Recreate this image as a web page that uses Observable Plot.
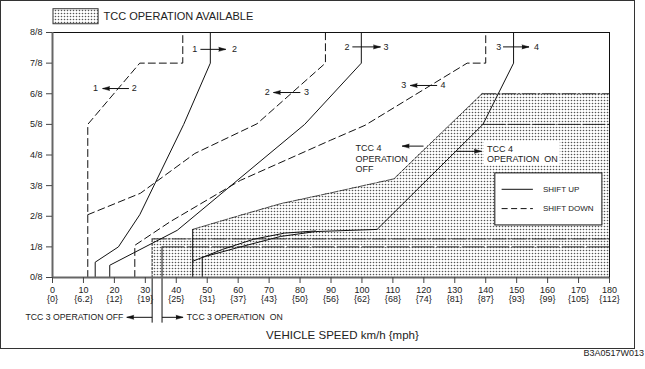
<!DOCTYPE html>
<html><head><meta charset="utf-8">
<script src="https://cdn.jsdelivr.net/npm/d3@7"></script>
<script src="https://cdn.jsdelivr.net/npm/@observablehq/plot@0.6"></script>
<style>
body{margin:0;background:#fff;}
#wrap{position:relative;width:645px;height:369px;overflow:hidden;font-family:"Liberation Sans",Arial,sans-serif;}
#border{position:absolute;left:0;top:0;width:633px;height:347px;border:1.5px solid #333;pointer-events:none;}
#code{position:absolute;right:1px;top:348px;font-size:9px;color:#222;}
</style></head><body>
<div id="wrap"><div id="chart"></div><div id="border"></div><div id="code">B3A0517W013</div></div>
<script>
// ---------- data ----------
const speedTicks = [0,10,20,30,40,50,60,70,80,90,100,110,120,130,140,150,160,170,180];
const mphLabels = ["{0}","{6.2}","{12}","{19}","{25}","{31}","{37}","{43}","{50}","{56}","{62}","{68}","{74}","{81}","{87}","{93}","{99}","{105}","{112}"];
const throttleTicks = [0,1,2,3,4,5,6,7,8];
const throttleLabels = ["0/8","1/8","2/8","3/8","4/8","5/8","6/8","7/8","8/8"];

// shift lines [speed km/h, throttle eighths]
const up12   = [[13.8,0],[13.8,0.5],[21.3,1],[28.2,2.05],[42.4,5],[51,7],[51,8]];
const down12 = [[11.4,0],[11.4,5],[28.2,7],[42.1,7],[42.1,8]];
const up23   = [[18.5,0],[18.5,0.4],[40.3,1.54],[81.5,5],[99.8,7],[99.8,8]];
const down23 = [[11.4,2.05],[28.4,2.75],[46,4.05],[66.1,5.02],[88.2,7],[88.2,8]];
const up34   = [[48.4,0],[48.4,0.66],[60,0.98],[73.7,1.34],[85,1.5],[104.9,1.57],[139.1,5],[149,7],[149,8]];
const down34 = [[26.6,0],[26.6,1.05],[38,1.82],[60.7,3.17],[89.8,4.48],[101,4.97],[134,7],[140,7],[140,8]];

// TCC boundaries
const tcc3Off = [[32.2,0],[32.2,1.26],[180,1.26]];
const tcc3On  = [[35.4,0],[35.4,1],[180,1]];
const tcc4Off = [[45.3,0],[45.3,1.57],[60.7,2.03],[73.7,2.41],[89.8,2.76],[110.3,3.22],[138.8,6],[180,6]];
const tcc4OnLow  = [[45.3,0.53],[55,0.92],[65,1.25],[75,1.45],[85,1.52]];
const tcc4OnHigh = [[139.1,5],[180,5]];

// annotations
const gearLabels = [
  {x:46.0,y:7.45,t:"1"},{x:58.8,y:7.45,t:"2"},
  {x:13.9,y:6.17,t:"1"},{x:26.4,y:6.17,t:"2"},
  {x:69.4,y:6.04,t:"2"},{x:82.1,y:6.04,t:"3"},
  {x:95.2,y:7.53,t:"2"},{x:107.8,y:7.53,t:"3"},
  {x:144.2,y:7.53,t:"3"},{x:156.4,y:7.53,t:"4"},
  {x:113.5,y:6.27,t:"3"},{x:126.2,y:6.27,t:"4"}
];
const arrows = [
  {y:7.45,tail:47.8,head:56.0},
  {y:6.17,tail:24.7,head:16.2},
  {y:6.04,tail:80.1,head:71.4},
  {y:7.53,tail:96.9,head:106.0},
  {y:7.53,tail:145.6,head:154.0},
  {y:6.27,tail:124.3,head:115.6},
  {y:4.29,tail:119.9,head:113.0},
  {y:4.12,tail:130.5,head:138.6},
  {y:-1.30,tail:32.2,head:24.0},
  {y:-1.30,tail:35.4,head:42.2}
];

// ---------- build ----------
const lineRows = [
  ["1-2","up",up12],["1-2","down",down12],["2-3","up",up23],
  ["2-3","down",down23],["3-4","up",up34],["3-4","down",down34]
].flatMap(([name,kind,pts]) => pts.map(([x,y]) => ({name:name+kind,kind,x,y})));
const pt = a => a.map(([x,y]) => ({x,y}));
const stip = "url(#stipple)";
const font = "Liberation Sans, Arial, Helvetica, sans-serif";

const svg = Plot.plot({
  width: 645, height: 369,
  marginLeft: 52, marginRight: 36, marginTop: 32, marginBottom: 92,
  x: {domain: [0,180]},
  y: {domain: [0,8]},
  style: {fontFamily: font, fontSize: "9px", color: "#222", background: "transparent"},
  marks: [
    // stippled TCC regions
    Plot.rect([{x1: tcc3Off[0][0], x2: tcc3Off[2][0], y1: 0, y2: tcc3Off[1][1]}], {x1:"x1",x2:"x2",y1:"y1",y2:"y2", fill: stip}),
    Plot.areaY(pt(tcc4Off.slice(1)), {x:"x", y:"y", fill: stip}),
    // TCC boundaries
    Plot.line(pt(tcc3Off.slice(0,2)), {x:"x",y:"y",stroke:"#222",strokeWidth:1,strokeDasharray:"2,2"}),
    Plot.line(pt(tcc3Off.slice(1)), {x:"x",y:"y",stroke:"#222",strokeWidth:1,strokeDasharray:"14,2,2,2"}),
    Plot.line(pt(tcc3On.slice(0,2)), {x:"x",y:"y",stroke:"#111",strokeWidth:1}),
    Plot.line(pt(tcc3On.slice(1)), {x:"x",y:"y",stroke:"#222",strokeWidth:1,strokeDasharray:"22,3"}),
    Plot.ruleX([tcc3Off[0][0], tcc3On[0][0]], {y1:-1.49, y2:0, stroke:"#111"}),
    Plot.line(pt(tcc4Off.slice(0,2)), {x:"x",y:"y",stroke:"#111",strokeWidth:1}),
    Plot.line(pt(tcc4Off.slice(1,7)), {x:"x",y:"y",stroke:"#222",strokeWidth:0.8,strokeDasharray:"8,1.5"}),
    Plot.line(pt(tcc4Off.slice(6)), {x:"x",y:"y",stroke:"#222",strokeWidth:1,strokeDasharray:"14,2,2,2"}),
    Plot.line(pt(tcc4OnLow), {x:"x",y:"y",stroke:"#111",strokeWidth:1}),
    Plot.line(pt(tcc4OnHigh), {x:"x",y:"y",stroke:"#222",strokeWidth:1,strokeDasharray:"22,3"}),
    // white boxes
    Plot.rect([{x1:139.6,x2:164.1,y1:3.66,y2:4.44}], {x1:"x1",x2:"x2",y1:"y1",y2:"y2",fill:"white"}),
    Plot.rect([{x1:143.1,x2:177.7,y1:1.70,y2:3.40}], {x1:"x1",x2:"x2",y1:"y1",y2:"y2",fill:"white",stroke:"#111",strokeWidth:1}),
    // shift lines
    Plot.line(lineRows.filter(d => d.kind === "up"), {x:"x",y:"y",z:"name",stroke:"#111",strokeWidth:1}),
    Plot.line(lineRows.filter(d => d.kind === "down"), {x:"x",y:"y",z:"name",stroke:"#111",strokeWidth:1,strokeDasharray:"7,4"}),
    // frame & axes lines
    Plot.ruleY([8], {stroke:"#111", strokeWidth:1}),
    Plot.ruleX([180], {stroke:"#111", strokeWidth:1}),
    Plot.ruleX([0], {stroke:"#666", strokeWidth:2}),
    Plot.ruleY([0], {stroke:"#666", strokeWidth:2}),
    Plot.axisY({ticks: throttleTicks, tickFormat: d => throttleLabels[throttleTicks.indexOf(d)], tickSize: 6, tickPadding: 4, label: null, stroke:"#444", fill:"#222", fontSize: 9}),
    Plot.axisX({ticks: speedTicks, tickFormat: d => String(d), tickSize: 6, tickPadding: 3, label: null, stroke:"#444", fill:"#222", fontSize: 9}),
    Plot.axisX({ticks: speedTicks, tickFormat: d => mphLabels[speedTicks.indexOf(d)], tickSize: 0, tickPadding: 18, label: null, fill:"#222", fontSize: 9}),
    // arrows
    Plot.link(arrows, {x1:"tail", x2:"head", y1:"y", y2:"y", stroke:"#111", strokeWidth:1}),
    Plot.vector(arrows, {x:"head", y:"y", rotate: d => d.head > d.tail ? 90 : -90, length: 7, shape:"spike", r: 2, anchor:"end", fill:"#111", stroke:"#111", strokeWidth:0.5}),
    // gear labels
    Plot.text(gearLabels, {x:"x", y:"y", text:"t", fontSize: 9, fill:"#222"}),
    // TCC 4 labels
    Plot.text(["TCC 4\nOPERATION\nOFF"], {x: 97.9, y: 3.9, text: d => d, textAnchor:"start", lineAnchor:"middle", lineHeight: 1.2, fontSize: 9, fill:"#222"}),
    Plot.text(["TCC 4\nOPERATION\u00a0\u00a0ON"], {x: 140.4, y: 4.04, text: d => d, textAnchor:"start", lineAnchor:"middle", lineHeight: 1.18, fontSize: 9, fill:"#222"}),
    // legend box
    Plot.ruleY([2.88], {x1:145.3, x2:155.4, stroke:"#111"}),
    Plot.ruleY([2.25], {x1:145.3, x2:155.4, stroke:"#111", strokeDasharray:"6,3.5"}),
    Plot.text(["SHIFT UP","SHIFT DOWN"], {x: 158.5, y: (d,i) => i === 0 ? 2.88 : 2.25, text: d => d, textAnchor:"start", fontSize: 8, fill:"#222"}),
    // top legend
    Plot.rect([{x1:0.32,x2:14.9,y1:8.27,y2:8.76}], {x1:"x1",x2:"x2",y1:"y1",y2:"y2",fill:stip,stroke:"#333",strokeWidth:1}),
    Plot.text(["TCC OPERATION AVAILABLE"], {x: 16.5, y: 8.51, text: d => d, textAnchor:"start", fontSize: 11, fill:"#222"}),
    // TCC 3 labels
    Plot.text(["TCC 3 OPERATION OFF"], {x: 22.9, y: -1.30, text: d => d, textAnchor:"end", fontSize: 8.7, fill:"#222"}),
    Plot.text(["TCC 3 OPERATION\u00a0\u00a0ON"], {x: 43.4, y: -1.30, text: d => d, textAnchor:"start", fontSize: 8.7, fill:"#222"}),
    // x title
    Plot.text(["VEHICLE SPEED km/h {mph}"], {x: 93.7, y: -1.9, text: d => d, fontSize: 11.5, fill:"#222"})
  ]
});
const defs = d3.select(svg).insert("defs", ":first-child");
const pat = defs.append("pattern").attr("id","stipple").attr("patternUnits","userSpaceOnUse").attr("width",3).attr("height",3);
pat.append("rect").attr("width",3).attr("height",3).attr("fill","#fff");
pat.append("circle").attr("cx",1.5).attr("cy",1.5).attr("r",0.8).attr("fill","#555");
document.getElementById("chart").append(svg);
</script>
</body></html>
